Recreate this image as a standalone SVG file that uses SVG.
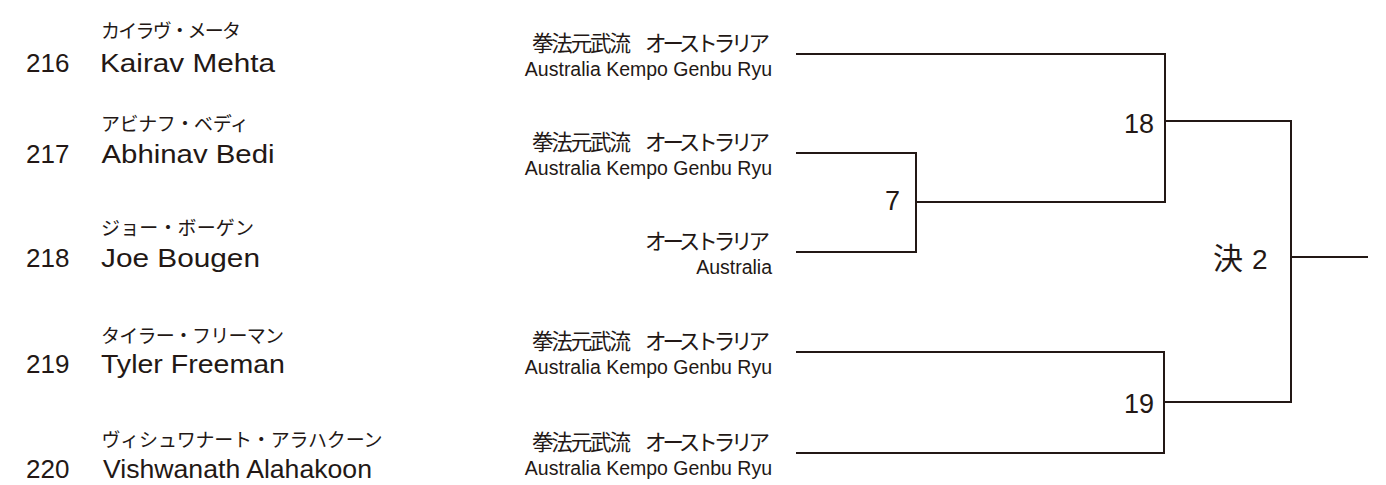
<svg xmlns="http://www.w3.org/2000/svg" width="1386" height="485" viewBox="0 0 1386 485">
<style>
text { fill: #231815; font-family: "Liberation Sans", "Noto Sans CJK JP", sans-serif; }
.num { font-size: 26px; }
.name { font-size: 26.5px; }
.kana { font-size: 19px; font-family: "Noto Sans CJK JP", sans-serif; }
.club { font-size: 21.5px; font-family: "Noto Sans CJK JP", sans-serif; }
.clubEn { font-size: 19.5px; text-anchor: end; }
.match { font-size: 27px; text-anchor: end; }
.final { font-size: 28px; }
.ketsu { font-size: 30px; font-family: "Noto Sans CJK JP", sans-serif; }
.conn { fill: none; stroke: #231815; stroke-width: 2; stroke-linecap: square; }
</style>
<rect width="1386" height="485" fill="#ffffff"/>

<g id="entry-216">
<text class="kana" x="101" y="37.5" textLength="140" lengthAdjust="spacing">カイラヴ・メータ</text>
<text class="num" x="26" y="72">216</text>
<text class="name" x="100" y="72" textLength="175" lengthAdjust="spacingAndGlyphs">Kairav Mehta</text>
<text class="club" x="532" y="50.5" textLength="99" lengthAdjust="spacing">拳法元武流</text>
<text class="club" x="645" y="50.5" textLength="125" lengthAdjust="spacing">オーストラリア</text>
<text class="clubEn" x="772" y="75.5">Australia Kempo Genbu Ryu</text>
</g>

<g id="entry-217">
<text class="kana" x="101" y="130.5" textLength="148" lengthAdjust="spacing">アビナフ・ベディ</text>
<text class="num" x="26" y="162.5">217</text>
<text class="name" x="101.5" y="162.5" textLength="173" lengthAdjust="spacingAndGlyphs">Abhinav Bedi</text>
<text class="club" x="532" y="149.5" textLength="99" lengthAdjust="spacing">拳法元武流</text>
<text class="club" x="645" y="149.5" textLength="125" lengthAdjust="spacing">オーストラリア</text>
<text class="clubEn" x="772" y="174.5">Australia Kempo Genbu Ryu</text>
</g>

<g id="entry-218">
<text class="kana" x="101" y="234.5" textLength="153" lengthAdjust="spacing">ジョー・ボーゲン</text>
<text class="num" x="26" y="267">218</text>
<text class="name" x="101" y="267" textLength="159" lengthAdjust="spacingAndGlyphs">Joe Bougen</text>
<text class="club" x="645" y="248.5" textLength="125" lengthAdjust="spacing">オーストラリア</text>
<text class="clubEn" x="772" y="273.5">Australia</text>
</g>

<g id="entry-219">
<text class="kana" x="101" y="342.5" textLength="183" lengthAdjust="spacing">タイラー・フリーマン</text>
<text class="num" x="26" y="373">219</text>
<text class="name" x="101" y="373" textLength="184" lengthAdjust="spacingAndGlyphs">Tyler Freeman</text>
<text class="club" x="532" y="348.5" textLength="99" lengthAdjust="spacing">拳法元武流</text>
<text class="club" x="645" y="348.5" textLength="125" lengthAdjust="spacing">オーストラリア</text>
<text class="clubEn" x="772" y="373.5">Australia Kempo Genbu Ryu</text>
</g>

<g id="entry-220">
<text class="kana" x="101.5" y="446.5" textLength="281" lengthAdjust="spacing">ヴィシュワナート・アラハクーン</text>
<text class="num" x="26" y="477.5">220</text>
<text class="name" x="103" y="477.5" textLength="269" lengthAdjust="spacingAndGlyphs">Vishwanath Alahakoon</text>
<text class="club" x="532" y="449.5" textLength="99" lengthAdjust="spacing">拳法元武流</text>
<text class="club" x="645" y="449.5" textLength="125" lengthAdjust="spacing">オーストラリア</text>
<text class="clubEn" x="772" y="474.5">Australia Kempo Genbu Ryu</text>
</g>

<g id="match-7">
<text class="match" x="900" y="209.5">7</text>
</g>
<g id="match-18">
<text class="match" x="1154" y="133">18</text>
</g>
<g id="match-19">
<text class="match" x="1154" y="413">19</text>
</g>
<g id="final-2">
<text class="final" x="1213" y="268.5"><tspan class="ketsu">決</tspan><tspan dx="9">2</tspan></text>
</g>

<g id="connectors">
<path class="conn" d="M797,54 H1165 V202 H916"/>
<path class="conn" d="M797,153 H916 V252 H797"/>
<path class="conn" d="M1165,121 H1291"/>
<path class="conn" d="M797,352 H1164 V453 H797"/>
<path class="conn" d="M1164,402 H1291"/>
<path class="conn" d="M1291,121 V402"/>
<path class="conn" d="M1291,257 H1367"/>
</g>
</svg>
